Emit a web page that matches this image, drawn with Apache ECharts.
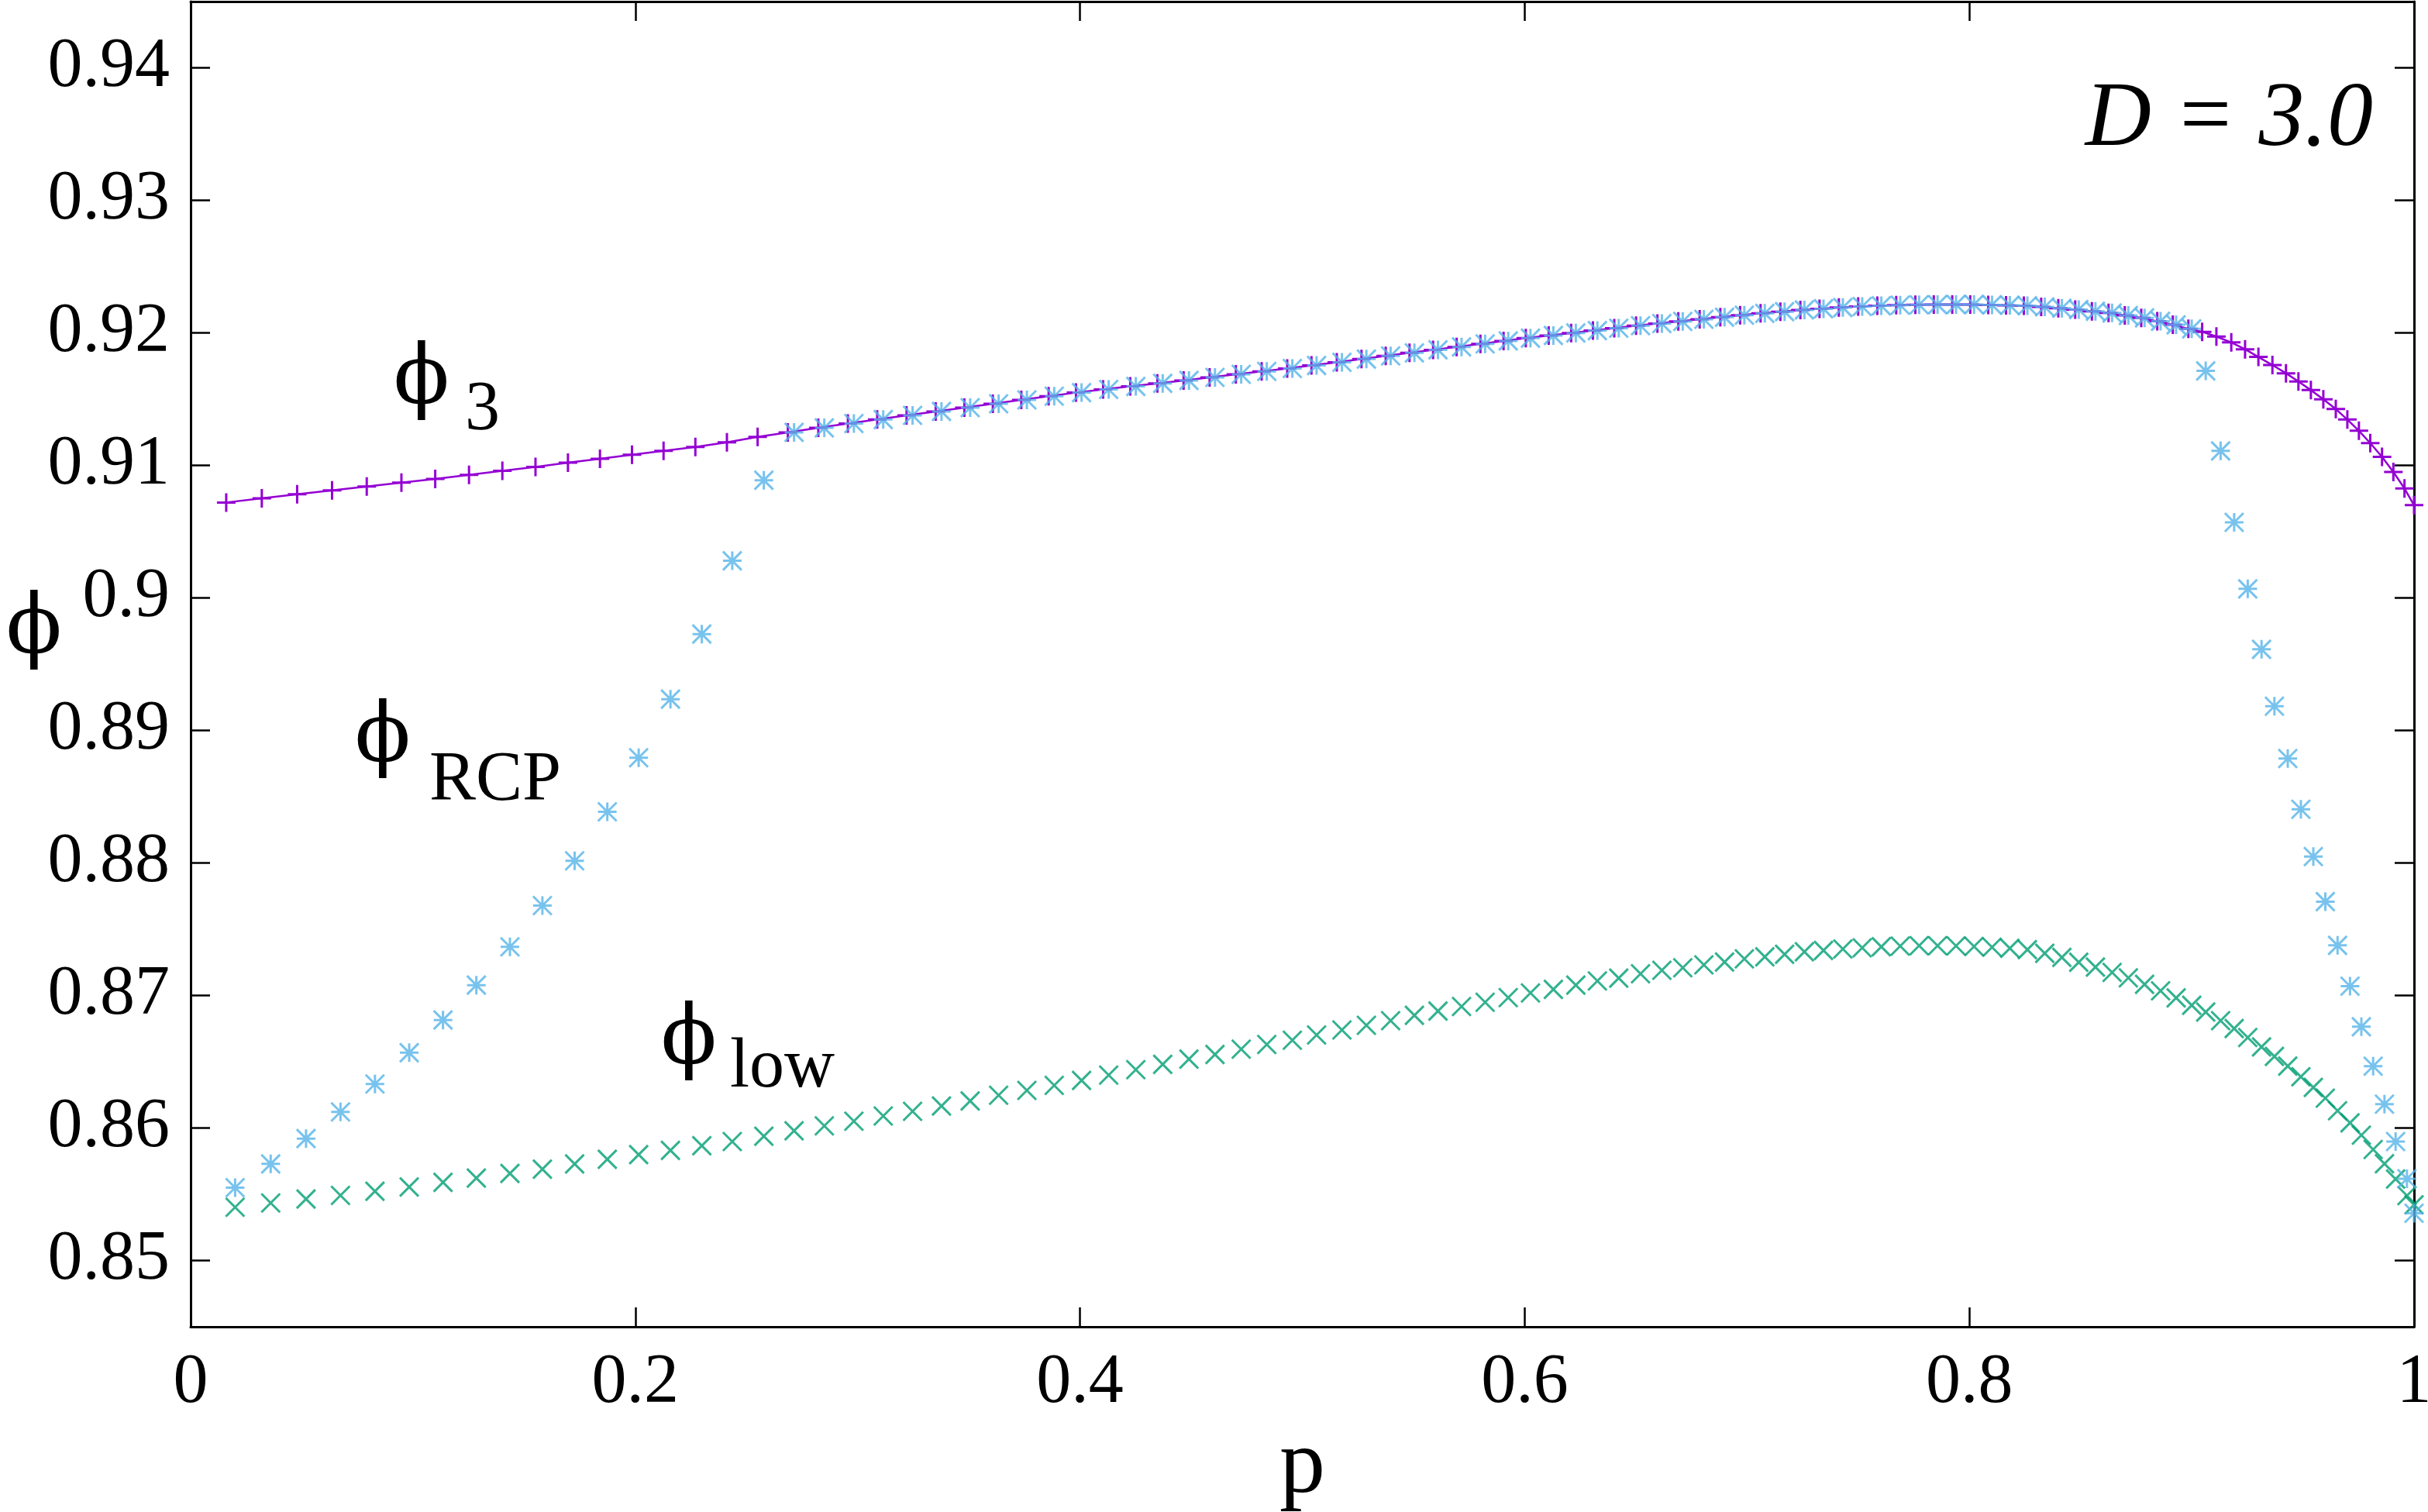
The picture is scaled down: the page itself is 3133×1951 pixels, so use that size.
<!DOCTYPE html>
<html><head><meta charset="utf-8">
<script src="https://cdn.jsdelivr.net/npm/echarts@6/dist/echarts.min.js"></script>
<style>html,body{margin:0;padding:0;background:#fff}#c{width:3133px;height:1951px}</style>
</head><body><div id="c"></div>
<script>
// p grid shared by phi_low and phi_RCP
const pGrid = [0.0200,0.0360,0.0519,0.0674,0.0829,0.0983,0.1135,0.1285,0.1436,0.1582,0.1727,0.1874,0.2015,0.2158,0.2299,0.2436,
0.2578,0.2714,0.2850,0.2983,0.3115,0.3247,0.3377,0.3506,0.3634,0.3761,0.3884,0.4007,0.4129,0.4251,0.4372,0.4490,0.4607,0.4725,0.4840,0.4955,
0.5064,0.5178,0.5288,0.5397,0.5504,0.5610,0.5716,0.5822,0.5926,0.6026,0.6129,0.6230,0.6327,0.6423,0.6521,0.6617,0.6711,0.6806,0.6899,0.6988,0.7080,0.7169,0.7258,0.7344,0.7431,
0.7518,0.7604,0.7689,0.7774,0.7857,0.7940,0.8021,0.8102,0.8182,0.8261,0.8339,0.8416,0.8492,0.8567,0.8642,0.8715,0.8788,0.8860,0.8930,0.9000,
0.9063,0.9130,0.9191,0.9252,0.9314,0.9372,0.9432,0.9491,0.9547,0.9601,0.9656,0.9712,0.9763,0.9816,0.9867,0.9917,0.9968,1.0000];

const lowVals = [0.85402,0.85434,0.85464,0.85491,0.85523,0.85555,0.85590,0.85622,0.85657,0.85689,0.85729,0.85764,0.85799,0.85831,0.85866,0.85898,
0.85938,0.85979,0.86016,0.86051,0.86091,0.86126,0.86166,0.86204,0.86247,0.86284,0.86322,0.86359,0.86399,0.86440,0.86480,0.86520,0.86555,0.86595,0.86630,0.86662,
0.86702,0.86740,0.86775,0.86810,0.86850,0.86882,0.86917,0.86949,0.86984,0.87019,0.87046,0.87078,0.87110,0.87131,0.87164,0.87190,0.87209,0.87231,0.87252,0.87276,0.87292,0.87311,0.87330,0.87340,0.87351,
0.87360,0.87368,0.87373,0.87376,0.87376,0.87374,0.87370,0.87364,0.87356,0.87346,0.87318,0.87287,0.87251,0.87214,0.87174,0.87133,0.87084,0.87035,0.86982,0.86926,
0.86875,0.86810,0.86751,0.86683,0.86612,0.86540,0.86467,0.86387,0.86306,0.86225,0.86130,0.86039,0.85946,0.85838,0.85730,0.85615,0.85490,0.85420];

const rcpVals = [0.85550,0.85729,0.85920,0.86121,0.86332,0.86568,0.86815,0.87078,0.87367,0.87678,0.88016,0.88386,0.88794,0.89236,0.89727,0.90280,
0.90888,0.91249,0.91283,0.91316,0.91346,0.91377,0.91407,0.91436,0.91465,0.91494,0.91522,0.91549,0.91573,0.91596,0.91619,0.91641,0.91664,0.91687,0.91709,0.91731,
0.91754,0.91778,0.91802,0.91826,0.91849,0.91872,0.91894,0.91917,0.91939,0.91960,0.91980,0.91999,0.92017,0.92035,0.92054,0.92070,0.92086,0.92102,0.92118,0.92133,0.92147,0.92160,0.92173,0.92182,0.92191,
0.92199,0.92204,0.92209,0.92212,0.92213,0.92214,0.92214,0.92211,0.92208,0.92205,0.92196,0.92186,0.92176,0.92163,0.92150,0.92131,0.92113,0.92087,0.92061,0.92030,
0.91713,0.91109,0.90570,0.90068,0.89612,0.89183,0.88788,0.88405,0.88048,0.87708,0.87378,0.87070,0.86764,0.86466,0.86180,0.85898,0.85617,0.85357];

// p grid of phi_3
const p3Grid = [0.0160,0.0320,0.0479,0.0636,0.0792,0.0948,0.1100,0.1252,0.1402,0.1551,0.1697,0.1841,0.1985,0.2127,0.2270,0.2412,
0.2550,0.2686,0.2823,0.2956,0.3088,0.3220,0.3351,0.3480,0.3608,0.3736,0.3859,0.3982,0.4104,0.4226,0.4348,0.4466,0.4583,0.4701,0.4817,0.4932,
0.5041,0.5155,0.5266,0.5375,0.5482,0.5588,0.5694,0.5801,0.5905,0.6005,0.6108,0.6209,0.6307,0.6403,0.6501,0.6597,0.6691,0.6787,0.6880,0.6969,0.7061,0.7150,0.7240,0.7326,0.7413,
0.7500,0.7586,0.7671,0.7757,0.7840,0.7923,0.8004,0.8085,0.8165,0.8245,0.8323,0.8400,0.8476,0.8551,0.8626,0.8699,0.8773,0.8845,0.8915,0.8985,
0.9047,0.9111,0.9178,0.9240,0.9300,0.9363,0.9424,0.9480,0.9536,0.9592,0.9648,0.9700,0.9752,0.9803,0.9856,0.9907,0.9957,1.0000];

const phi3Vals = [0.90720,0.90752,0.90782,0.90811,0.90841,0.90870,0.90897,0.90929,0.90959,0.90988,0.91021,0.91050,0.91080,0.91109,0.91139,0.91174,
0.91215,0.91249,0.91283,0.91316,0.91346,0.91377,0.91407,0.91436,0.91465,0.91494,0.91522,0.91549,0.91573,0.91596,0.91619,0.91641,0.91664,0.91687,0.91709,0.91731,
0.91754,0.91778,0.91802,0.91826,0.91849,0.91872,0.91894,0.91917,0.91939,0.91960,0.91980,0.91999,0.92017,0.92035,0.92054,0.92070,0.92086,0.92102,0.92118,0.92133,0.92147,0.92160,0.92173,0.92182,0.92191,
0.92199,0.92204,0.92209,0.92212,0.92213,0.92214,0.92214,0.92211,0.92208,0.92205,0.92196,0.92186,0.92176,0.92163,0.92150,0.92131,0.92113,0.92087,0.92061,0.92030,
0.92008,0.91972,0.91928,0.91876,0.91818,0.91757,0.91695,0.91633,0.91568,0.91499,0.91425,0.91346,0.91261,0.91168,0.91064,0.90950,0.90826,0.90700];

const xTicks = [0, 0.2, 0.4, 0.6, 0.8, 1];
const yTicks = [0.85, 0.86, 0.87, 0.88, 0.89, 0.90, 0.91, 0.92, 0.93, 0.94];

const C3 = '#9400D3', CRCP = '#56B4E9', CLOW = '#009E73';
const SERIF = 'Liberation Serif';
const PLUS = 'path://M0,12L24,12M12,0L12,24';
const CROSS = 'path://M0,0L24,24M24,0L0,24';
const STAR = 'path://M0,12L24,12M12,0L12,24M0,0L24,24M24,0L0,24';

function zip(a, b) { return a.map((v, i) => [v, b[i]]); }

const chart = echarts.init(document.getElementById('c'), null, {renderer: 'canvas'});
const tickStyle = {show: true, inside: true, length: 25, lineStyle: {color: '#000', width: 2.5}};
const lineStyle = {show: true, onZero: false, lineStyle: {color: '#000', width: 3}};
chart.setOption({
  animation: false,
  backgroundColor: '#fff',
  grid: {left: 246, right: 18, top: 2, bottom: 239, containLabel: false, outerBoundsMode: 'none'},
  xAxis: [
    {type: 'value', position: 'bottom', min: 0, max: 1, interval: 0.2,
     axisLine: lineStyle, axisTick: tickStyle, splitLine: {show: false},
     axisLabel: {show: true, margin: 28, color: '#000', fontFamily: SERIF, fontSize: 90,
       formatter: v => String(+v.toFixed(1))},
     name: 'p', nameLocation: 'middle', nameGap: 109,
     nameTextStyle: {color: '#000', fontFamily: SERIF, fontSize: 118}},
    {type: 'value', position: 'top', min: 0, max: 1, interval: 0.2,
     axisLine: lineStyle, axisTick: tickStyle, splitLine: {show: false}, axisLabel: {show: false}}
  ],
  yAxis: [
    {type: 'value', position: 'left', min: 0.845, max: 0.945,
     axisLine: lineStyle, splitLine: {show: false},
     axisTick: Object.assign({}, tickStyle, {customValues: yTicks}),
     axisLabel: {show: true, margin: 27, color: '#000', fontFamily: SERIF, fontSize: 90,
       customValues: yTicks, padding: [0, 0, 22, 0],
       formatter: v => { const s = (+v).toFixed(2); return s === '0.90' ? '0.9' : s; }}},
    {type: 'value', position: 'right', min: 0.845, max: 0.945,
     axisLine: lineStyle, splitLine: {show: false},
     axisTick: Object.assign({}, tickStyle, {customValues: yTicks}),
     axisLabel: {show: false}}
  ],
  series: [
    {name: 'ϕ3', type: 'line', data: zip(p3Grid, phi3Vals), clip: false,
     symbol: PLUS, symbolSize: 24, showSymbol: true,
     lineStyle: {color: C3, width: 2.5},
     itemStyle: {color: C3, borderColor: C3, borderWidth: 3}, z: 2},
    {name: 'ϕlow', type: 'scatter', data: zip(pGrid, lowVals), clip: false,
     symbol: CROSS, symbolSize: 24,
     itemStyle: {color: CLOW, borderColor: CLOW, borderWidth: 3}, z: 3},
    {name: 'ϕRCP', type: 'scatter', data: zip(pGrid, rcpVals), clip: false,
     symbol: STAR, symbolSize: 24,
     itemStyle: {color: CRCP, borderColor: CRCP, borderWidth: 3}, z: 4}
  ],
  graphic: [
    // y-axis title
    {type: 'text', x: 44, y: 814, style: {text: 'ϕ', fontFamily: 'DejaVu Serif', fontSize: 106, fill: '#000', align: 'center', verticalAlign: 'middle'}},
    {type: 'text', x: 544, y: 492, style: {text: 'ϕ', fontFamily: 'DejaVu Serif', fontSize: 106, fill: '#000', align: 'center', verticalAlign: 'middle'}},
    {type: 'text', x: 600, y: 530, style: {text: '3', fontFamily: SERIF, fontSize: 90, fill: '#000', align: 'left', verticalAlign: 'middle'}},
    {type: 'text', x: 494, y: 954, style: {text: 'ϕ', fontFamily: 'DejaVu Serif', fontSize: 106, fill: '#000', align: 'center', verticalAlign: 'middle'}},
    {type: 'text', x: 554, y: 1008, style: {text: 'RCP', fontFamily: SERIF, fontSize: 90, fill: '#000', align: 'left', verticalAlign: 'middle'}},
    {type: 'text', x: 889, y: 1344, style: {text: 'ϕ', fontFamily: 'DejaVu Serif', fontSize: 106, fill: '#000', align: 'center', verticalAlign: 'middle'}},
    {type: 'text', x: 942, y: 1378, style: {text: 'low', fontFamily: SERIF, fontSize: 90, fill: '#000', align: 'left', verticalAlign: 'middle'}},
    {type: 'text', x: 3062, y: 156, style: {text: 'D = 3.0', fontFamily: SERIF, fontStyle: 'italic', fontSize: 118, fill: '#000', align: 'right', verticalAlign: 'middle'}}
  ]
});
</script>
</body></html>
